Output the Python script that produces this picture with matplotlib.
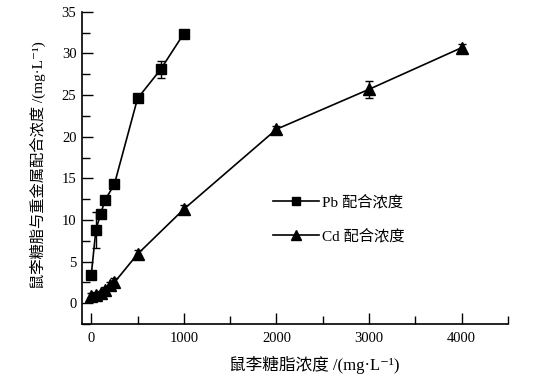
import matplotlib
matplotlib.use("Agg")
import matplotlib.pyplot as plt
from matplotlib.ticker import MultipleLocator
from matplotlib.lines import Line2D

plt.rcParams['font.family'] = ['Liberation Serif', 'Noto Sans CJK SC', 'DejaVu Serif']

pb_x = [0, 50, 100, 150, 250, 500, 750, 1000]
pb_y = [3.4, 8.8, 10.7, 12.4, 14.3, 24.6, 28.1, 32.4]
pb_err = [0.3, 2.2, 0.4, 0.5, 0.4, 0.3, 1.0, 0.2]

cd_x = [0, 50, 100, 150, 200, 250, 500, 1000, 2000, 3000, 4000]
cd_y = [0.9, 1.0, 1.2, 1.6, 2.2, 2.5, 5.9, 11.3, 20.9, 25.7, 30.7]
cd_err = [0.3, 0.3, 0.3, 0.4, 0.4, 0.5, 0.5, 0.5, 0.4, 1.0, 0.4]

xlabel = "鼠李糖脂浓度 /(mg·L\u207b\u00b9)"
ylabel = "鼠李糖脂与重金属配合浓度 /(mg·L\u207b\u00b9)"
labels = ["Pb 配合浓度", "Cd 配合浓度"]

fig = plt.figure(figsize=(5.54, 3.83), dpi=100)
ax = fig.add_axes([0.148, 0.154, 0.769, 0.815])

ax.errorbar(pb_x, pb_y, yerr=pb_err, color='black', marker='s', markersize=7,
            linewidth=1.2, elinewidth=1.0, capsize=3)
ax.errorbar(cd_x, cd_y, yerr=cd_err, color='black', marker='^', markersize=8,
            linewidth=1.2, elinewidth=1.0, capsize=3)

ax.set_xlim(-100, 4500)
ax.set_ylim(-2.5, 35)
ax.spines['top'].set_visible(False)
ax.spines['right'].set_visible(False)
ax.spines['left'].set_linewidth(1.2)
ax.spines['bottom'].set_linewidth(1.2)

ax.xaxis.set_major_locator(MultipleLocator(1000))
ax.xaxis.set_minor_locator(MultipleLocator(500))
ax.yaxis.set_major_locator(MultipleLocator(5))
ax.yaxis.set_minor_locator(MultipleLocator(2.5))
ax.tick_params(which='major', direction='in', length=8, width=1.0, labelsize=10.5, pad=6)
ax.tick_params(which='minor', direction='in', length=6, width=1.0)
ax.tick_params(axis='y', which='major', pad=4)

ax.set_xlabel(xlabel, fontsize=12)
ax.set_ylabel(ylabel, fontsize=11)
ax.xaxis.set_label_coords(0.545, -0.131)
ax.yaxis.set_label_coords(-0.103, 0.51)
ax.xaxis.label.set_va('center')
ax.yaxis.label.set_va('center')

handles = [Line2D([], [], color='black', marker='s', markersize=6, linewidth=1.2),
           Line2D([], [], color='black', marker='^', markersize=7, linewidth=1.2)]
ax.legend(handles, labels, loc='upper left', bbox_to_anchor=(0.43, 0.44), frameon=False,
          fontsize=11, handlelength=3.0, labelspacing=1.3, handletextpad=0.2,
          borderpad=0)

fig.savefig("out.png", dpi=100)
